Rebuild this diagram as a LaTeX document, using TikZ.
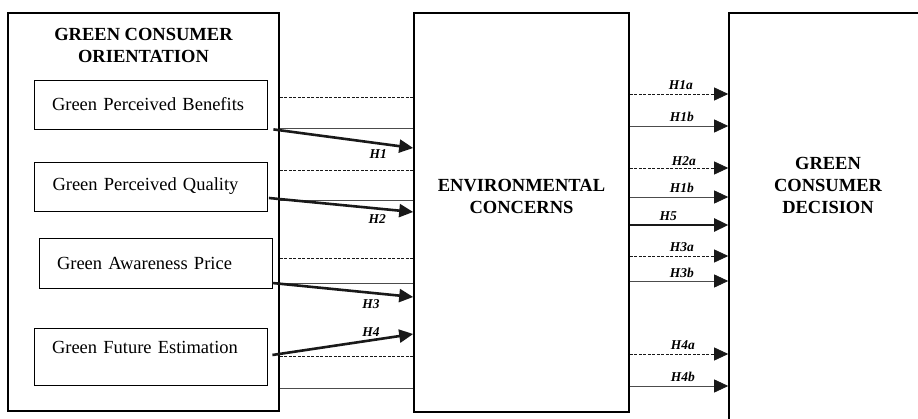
\documentclass[tikz,border=0pt]{standalone}
\usepackage{fontspec}
\setmainfont{Liberation Serif}
\usetikzlibrary{arrows.meta,positioning}
\begin{document}
\begin{tikzpicture}[x=1pt,y=-1pt,>={Triangle[length=14pt,width=13pt,color=black!90]},
 bigbox/.style={draw,line width=1.6pt},
 factor/.style={draw,line width=.8pt,text width=197pt,inner xsep=18pt,inner ysep=0pt,align=left,
   font=\fontsize{18.5}{21}\selectfont},
 heading/.style={align=center,font=\fontsize{18.5}{22}\selectfont\bfseries},
 solidln/.style={draw=black!70,line width=.8pt},
 dashln/.style={draw=black!90,line width=.7pt,dash pattern=on 3pt off 1.5pt},
 hyp/.style={draw=black!90,line width=2.6pt},
 hl/.style={font=\fontsize{13.5}{15}\selectfont\bfseries\itshape,inner sep=1pt}]
 \useasboundingbox (0,0) rectangle (918,419);
 \clip (0,0) rectangle (918,419);
 % the three blocks
 \node[bigbox,minimum width=271pt,minimum height=398pt] (orient) at (143.5,212) {};
 \node[bigbox,minimum width=215pt,minimum height=399pt] (env) at (521.5,212.5) {};
 \node[bigbox,minimum width=198pt,minimum height=427pt] (decision) at (828,226.5) {};
 \node[heading] (orienttitle) at (143.5,45.5) {GREEN CONSUMER\\ORIENTATION};
 \node[heading] (envtitle) at (521.5,196) {ENVIRONMENTAL\\CONCERNS};
 \node[heading] (dectitle) at (828,185) {GREEN\\CONSUMER\\DECISION};
 % factors
 \node[factor,minimum height=49pt] (benefits) at (150.5,104.5) {Green Perceived Benefits};
 \node[factor,minimum height=49pt] (quality) at (151,186.5) {Green Perceived Quality};
 \node[factor,minimum height=50pt] (awareness) at (155.5,263) {Green Awareness Price};
 \node[factor,minimum height=57pt,text depth=19pt] (future) at (150.5,356.5) {Green Future Estimation};
 % links orientation -> concerns
 \draw[dashln] (orient.east |- 0,97)--(env.west |- 0,97);\draw[solidln] (orient.east |- 0,128)--(env.west |- 0,128);
 \draw[dashln] (orient.east |- 0,170)--(env.west |- 0,170);\draw[solidln] (orient.east |- 0,200)--(env.west |- 0,200);
 \draw[dashln] (orient.east |- 0,258)--(env.west |- 0,258);\draw[solidln] (orient.east |- 0,283)--(env.west |- 0,283);
 \draw[dashln] (orient.east |- 0,356)--(env.west |- 0,356);\draw[solidln] (orient.east |- 0,388)--(env.west |- 0,388);
 \draw[hyp,->] ([xshift=6pt]benefits.south east)--(env.west |- 0,148) node[hl,below=4pt,pos=.75] {H1};
 \draw[hyp,->] ([xshift=1pt,yshift=-11.5pt]quality.east)--(env.west |- 0,212) node[hl,below=4pt,pos=.75] {H2};
 \draw[hyp,->] ([yshift=-20pt]awareness.east)--(env.west |- 0,297) node[hl,below=4pt,pos=.7] {H3};
 \draw[hyp,->] ([xshift=5pt,yshift=1.5pt]future.east)--(env.west |- 0,334) node[hl,above=1pt,pos=.7] {H4};
 % links concerns -> decision
 \draw[dashln,->] (env.east |- 0,94)--(decision.west |- 0,94) node[hl,above=3pt,pos=.52] {H1a};
 \draw[solidln,->] (env.east |- 0,126)--(decision.west |- 0,126) node[hl,above=3pt,pos=.53] {H1b};
 \draw[dashln,->] (env.east |- 0,168)--(decision.west |- 0,168) node[hl,above=1pt,pos=.55] {H2a};
 \draw[solidln,->] (env.east |- 0,197)--(decision.west |- 0,197) node[hl,above=3pt,pos=.53] {H1b};
 \draw[hyp,->] (env.east |- 0,225)--(decision.west |- 0,225) node[hl,above=2pt,pos=.39] {H5};
 \draw[dashln,->] (env.east |- 0,256)--(decision.west |- 0,256) node[hl,above=3pt,pos=.53] {H3a};
 \draw[solidln,->] (env.east |- 0,281)--(decision.west |- 0,281) node[hl,above=2pt,pos=.53] {H3b};
 \draw[dashln,->] (env.east |- 0,354)--(decision.west |- 0,354) node[hl,above=3pt,pos=.54] {H4a};
 \draw[solidln,->] (env.east |- 0,386)--(decision.west |- 0,386) node[hl,above=3pt,pos=.54] {H4b};
\end{tikzpicture}
\end{document}
